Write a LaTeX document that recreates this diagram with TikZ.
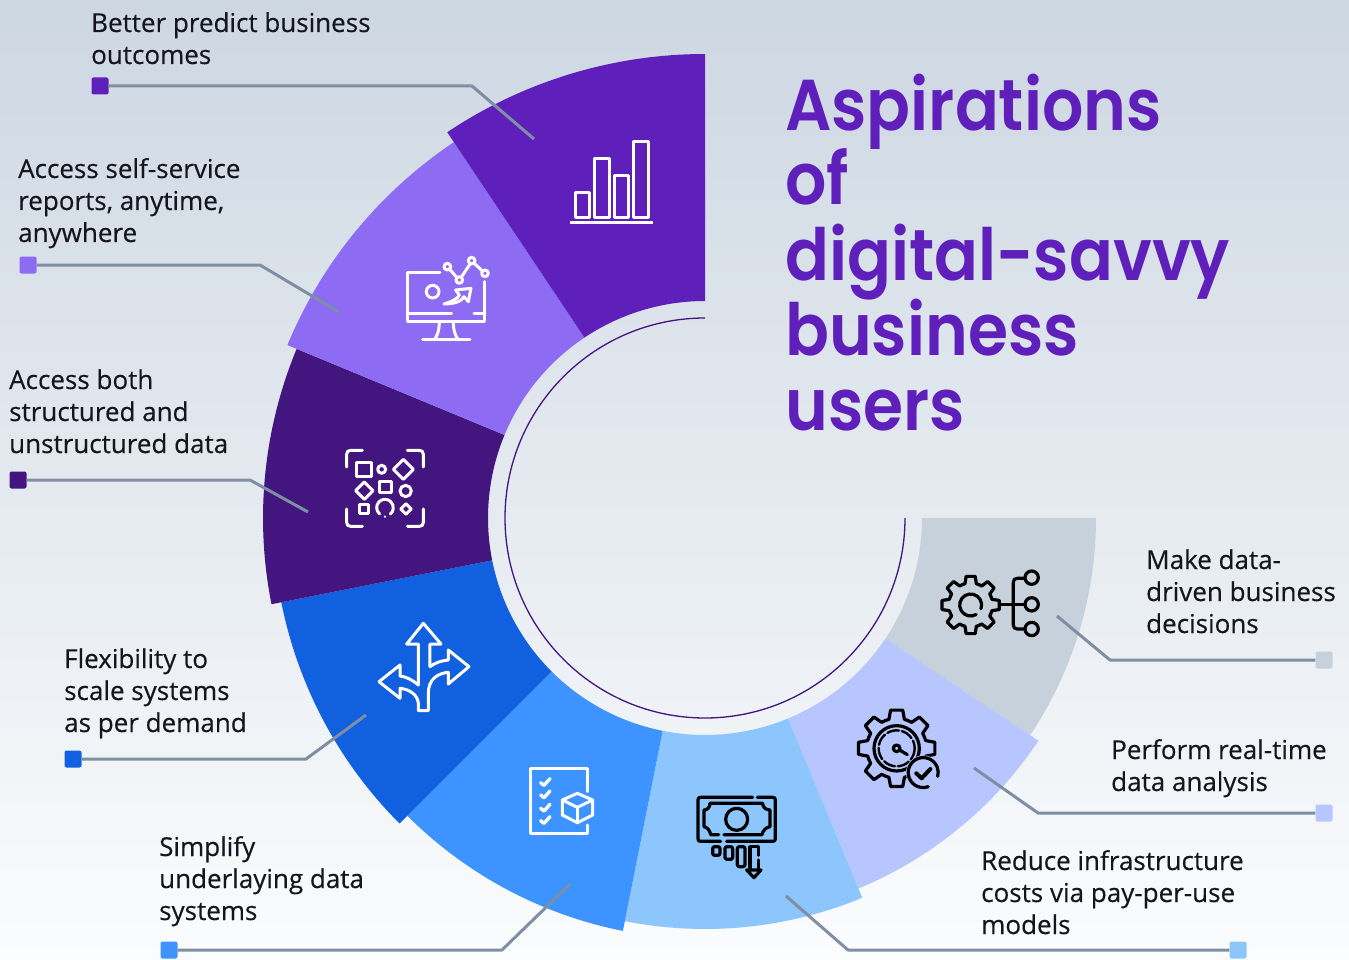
\documentclass[tikz,border=0pt]{standalone}
\usepackage{fontspec}
\setmainfont{Open Sans}[RawFeature={embolden=0.35}]
\newfontfamily\ttlfont{Poppins SemiBold}[FakeStretch=0.9]
\definecolor{c1}{HTML}{5E1FBB}
\definecolor{c2}{HTML}{8D6BF2}
\definecolor{c3}{HTML}{42157F}
\definecolor{c4}{HTML}{1060DF}
\definecolor{c5}{HTML}{3D93FF}
\definecolor{c6}{HTML}{8CC6FD}
\definecolor{c7}{HTML}{B7C6FF}
\definecolor{c8}{HTML}{C7D1DC}
\definecolor{bgtop}{HTML}{CDD7E2}
\definecolor{bgbot}{HTML}{FBFCFD}
\definecolor{lead}{HTML}{7F8FA3}
\definecolor{txt}{HTML}{15151F}
\newcommand\stackl[1]{\vtop{\baselineskip=32pt\lineskiplimit=-20pt\halign{##\hfil\cr #1\crcr}}}
\tikzset{
  lbl/.style={anchor=base west,inner sep=0pt,text=txt,font=\fontsize{26}{32}\selectfont},
  ttl/.style={anchor=base west,inner sep=0pt,text=c1,font=\ttlfont\fontsize{72}{75}\selectfont},
  leader/.style={draw=lead,line width=3pt,line join=round},
  sq/.style={rectangle,rounded corners=2pt,minimum size=17pt,inner sep=0pt},
  icw/.style={draw=white,line width=3pt,line cap=round,line join=round},
  icb/.style={draw=black,line width=3.2pt,line cap=round,line join=round},
  icon/.style 2 args={shift={(#1,#2)},x=0.3333pt,y=-0.3333pt},
}
\begin{document}
\begin{tikzpicture}[x=1pt,y=-1pt]
\useasboundingbox (0,0) rectangle (1349,960);
\shade[top color=bgtop,bottom color=bgbot] (0,0) rectangle (1349,960);
% ring
\begin{scope}[shift={(705,518)},y=1pt]
\foreach \aa/\ab/\rr/\cc in {326.25/360/391/c8,292.5/326.25/401/c7,258.75/292.5/411/c6,225/258.75/421/c5,191.25/225/432/c4,157.5/191.25/442/c3,123.75/157.5/452/c2,90/123.75/464/c1}{
  \fill[\cc] (\aa:\rr) arc[start angle=\aa,end angle=\ab,radius=\rr] -- (\ab:217) arc[start angle=\ab,end angle=\aa,radius=217] -- cycle;
}
\draw[c3,line width=1.3pt] (90:200) arc[start angle=90,end angle=360,radius=200];
\end{scope}
% title
\node[ttl] (t1) at (785,131) {Aspirations};
\node[ttl] (t2) at (785,205) {of};
\node[ttl] (t3) at (785,280) {digital-savvy};
\node[ttl] (t4) at (785,355) {business};
\node[ttl] (t5) at (785,430) {users};
% labels
\node[lbl] (l1) at (91,32) {\stackl{Better predict business\cr outcomes}};
\node[lbl] (l2) at (18,178) {\stackl{Access self-service\cr reports, anytime,\cr anywhere}};
\node[lbl] (l3) at (9,389) {\stackl{Access both\cr structured and\cr unstructured data}};
\node[lbl] (l4) at (64,668) {\stackl{Flexibility to\cr scale systems\cr as per demand}};
\node[lbl] (l5) at (159,856) {\stackl{Simplify\cr underlaying data\cr systems}};
\node[lbl] (l6) at (981,870) {\stackl{Reduce infrastructure\cr costs via pay-per-use\cr models}};
\node[lbl] (l7) at (1111,759) {\stackl{Perform real-time\cr data analysis}};
\node[lbl] (l8) at (1146,569) {\stackl{Make data-\cr driven business\cr decisions}};
% connectors
\node[sq,fill=c1] (s1) at (100,86) {};
\node[sq,fill=c2] (s2) at (28,265) {};
\node[sq,fill=c3] (s3) at (18,480) {};
\node[sq,fill=c4] (s4) at (73,759) {};
\node[sq,fill=c5] (s5) at (169,950) {};
\node[sq,fill=c6] (s6) at (1238,950) {};
\node[sq,fill=c7] (s7) at (1324,813) {};
\node[sq,fill=c8] (s8) at (1324,660) {};
\coordinate (k1) at (472,86);  \coordinate (e1) at (534,139);
\coordinate (k2) at (260,265); \coordinate (e2) at (339,312);
\coordinate (k3) at (250,480); \coordinate (e3) at (308,512);
\coordinate (k4) at (306,759); \coordinate (e4) at (366,715);
\coordinate (k5) at (502,950); \coordinate (e5) at (570,884);
\coordinate (k6) at (848,950); \coordinate (e6) at (786,896);
\coordinate (k7) at (1038,813);\coordinate (e7) at (974,768);
\coordinate (k8) at (1110,660);\coordinate (e8) at (1057,616);
\foreach \i in {1,...,8}{\draw[leader] (s\i) -- (k\i) -- (e\i);}
% icon 1
\begin{scope}[icon={540}{120},icw]
\draw (105,217) rectangle (148,293);
\draw (163,116) rectangle (207,293);
\draw (222,166) rectangle (265,293);
\draw (281,66) rectangle (325,293);
\draw[line cap=butt] (90,309) -- (340,309);
\end{scope}
% icon 2
\begin{scope}[icon={390}{240},icw]
\draw (150,98) -- (52,98) -- (52,245) -- (285,245) -- (285,125);
\draw (52,220) -- (185,220);
\draw (252,220) -- (285,220);
\draw (148,245) .. controls (148,270) and (142,290) .. (132,300);
\draw (190,245) .. controls (190,270) and (196,290) .. (206,300);
\draw (98,300) -- (240,300);
\draw (128,155) circle[radius=19];
\draw (162,192) .. controls (185,185) and (205,175) .. (208,165) -- (197,150) -- (243,145) -- (235,185) -- (222,170) .. controls (215,185) and (190,192) .. cycle;
\draw (181,90) -- (200,112);
\draw (215,110) -- (239,74);
\draw (254,71) -- (276,92);
\draw (172,80) circle[radius=10];
\draw (208,120) circle[radius=10];
\draw (245,62) circle[radius=10];
\draw (285,100) circle[radius=10];
\end{scope}
% icon 3
\begin{scope}[icon={330}{435},icw]
\draw (97,46) -- (62,46) .. controls (54,46) and (50,50) .. (50,58) -- (50,96);
\draw (232,46) -- (268,46) .. controls (276,46) and (280,50) .. (280,58) -- (280,96);
\draw (50,222) -- (50,262) .. controls (50,270) and (54,274) .. (62,274) -- (97,274);
\draw (232,274) -- (268,274) .. controls (276,274) and (280,270) .. (280,262) -- (280,222);
\draw (80,82) rectangle (125,125);
\draw (155,103) circle[radius=12];
\draw (220,73) -- (250,103) -- (220,133) -- (190,103) -- cycle;
\draw (103,141) -- (129,167) -- (103,193) -- (77,167) -- cycle;
\draw (150,140) rectangle (185,172);
\draw (227,168) circle[radius=17];
\draw (88,208) rectangle (116,236);
\draw (149,237) arc[start angle=130,end angle=410,radius=25];
\fill[white] (165,245) circle[radius=4];
\draw (228,206) -- (244,222) -- (228,238) -- (212,222) -- cycle;
\end{scope}
% icon 4
\begin{scope}[icon={365}{610},icw]
\draw (175,40) -- (228,102) -- (195,102) -- (195,170) .. controls (210,158) and (230,152) .. (250,150) -- (250,120) -- (312,170) -- (250,222) -- (250,187) .. controls (215,190) and (190,210) .. (190,250) -- (190,302) -- (160,302) -- (160,280) .. controls (158,255) and (135,238) .. (105,235) -- (105,265) -- (42,215) -- (105,165) -- (105,198) .. controls (125,200) and (145,212) .. (160,225) -- (160,102) -- (125,102) -- cycle;
\end{scope}
% icon 5
\begin{scope}[icon={510}{750},icw]
\draw (232,125) -- (232,55) -- (62,55) -- (62,250) -- (232,250) -- (232,225);
\foreach \yy in {98,135,175,212}{
  \draw[line width=3.4pt] (92,\yy) -- (102,\yy+8) -- (120,\yy-12);
}
\draw (202,130) -- (248,150) -- (248,195) -- (202,218) -- (157,195) -- (157,150) -- cycle;
\draw (157,150) -- (202,172) -- (248,150);
\draw (202,172) -- (202,218);
\end{scope}
% icon 6
\begin{scope}[icon={680}{780},icb]
\draw (218,52) -- (62,52) .. controls (56,52) and (54,54) .. (54,60) -- (54,176) .. controls (54,182) and (56,184) .. (62,184) -- (122,184);
\draw (140,184) -- (278,184) .. controls (284,184) and (286,182) .. (286,176) -- (286,60) .. controls (286,54) and (284,52) .. (278,52) -- (232,52);
\draw (90,70) -- (248,70) .. controls (248,82) and (258,90) .. (270,90) -- (270,140) .. controls (258,142) and (248,152) .. (246,164) -- (132,164);
\draw (116,164) -- (92,164) .. controls (90,152) and (82,142) .. (72,140) -- (72,90) .. controls (82,90) and (90,82) .. (90,70);
\draw (170,118) circle[radius=33];
\draw[rounded corners=2pt] (98,200) rectangle (120,226);
\draw[rounded corners=2pt] (135,200) rectangle (158,238);
\draw[rounded corners=2pt] (172,200) rectangle (195,260);
\draw (210,265) -- (210,200) -- (236,200) -- (236,226);
\draw (236,240) -- (236,270);
\draw (200,270) -- (222,293) -- (243,270) -- cycle;
\end{scope}
% icon 7
\begin{scope}[icon={845}{695},icb]
\begin{scope}[shift={(155,160)}]
\foreach \a in {0,45,...,315}{
  \draw (\a-22.5:90) -- (\a-15:90) -- (\a-9:116) -- (\a+9:116) -- (\a+15:90) -- (\a+22.5:90);
}
\draw (0,0) circle[radius=68];
\draw[line width=2.4pt,dash pattern=on 12pt off 3pt] (0,0) circle[radius=54];
\draw (0,0) circle[radius=10];
\draw (9,5) -- (32,19);
\end{scope}
\fill[c7,draw=none] (235,233) circle[radius=52];
\draw (250,275) arc[start angle=70,end angle=375,radius=45];
\draw[line width=4pt] (214,235) -- (230,250) -- (256,222);
\end{scope}
% icon 8
\begin{scope}[icon={930}{555},icb]
\begin{scope}[shift={(122,150)}]
\foreach \a in {0,45,...,315}{
  \draw (\a-22.5:66) -- (\a-15:66) -- (\a-9:87) -- (\a+9:87) -- (\a+15:66) -- (\a+22.5:66);
}
\draw (16.5,28.6) arc[start angle=60,end angle=380,radius=33];
\end{scope}
\draw (208,148) -- (285,148);
\draw (285,70) -- (262,70) .. controls (254,70) and (250,74) .. (250,82) -- (250,210) .. controls (250,218) and (254,222) .. (262,222) -- (285,222);
\draw (305,68) circle[radius=20];
\draw (305,148) circle[radius=20];
\draw (305,222) circle[radius=20];
\end{scope}
\end{tikzpicture}
\end{document}
